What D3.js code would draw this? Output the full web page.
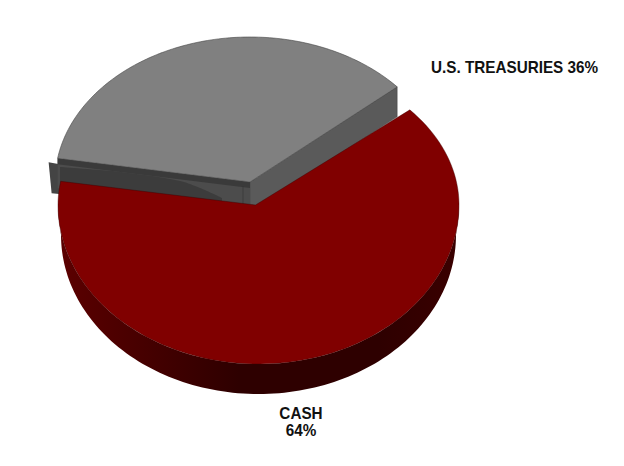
<!DOCTYPE html>
<html>
<head>
<meta charset="utf-8">
<script src="https://cdn.jsdelivr.net/npm/d3@7"></script>
<style>
html,body{margin:0;padding:0;background:#fff;}
text{font-family:"Liberation Sans",Arial,sans-serif;font-weight:bold;font-size:16px;fill:#111;}
</style>
</head>
<body>
<script>
// data
var categories = ["CASH", "U.S. TREASURIES"];
var shares = [64, 36];
var colours = ["#800000", "#808080"];

var width = 624, height = 466;
var depth = 30;
var deg = Math.PI / 180;

var svg = d3.select("body").append("svg")
    .attr("width", width)
    .attr("height", height)
    .style("display", "block");

// tilted pie: unit circle to screen, far half is a bit flatter than the near half
var x = d3.scaleLinear().domain([-1, 1]).range([58, 459]);
var y = d3.scaleLinear().domain([-1, 0, 1]).range([364, 205, 60]);
// the pulled out slice sits further back so it comes out a little smaller
var xBack = d3.scaleLinear().domain([-1, 1]).range([55, 445]);
var yBack = d3.scaleLinear().domain([-1, 0, 1]).range([341, 182, 37]);

var pie = d3.pie()
    .sort(null)
    .startAngle(49 * deg)
    .endAngle(409 * deg)
    .value(function(d) { return d; });

var slices = pie(shares);
var cash = slices[0], treasury = slices[1];
var line = d3.line();

function rimPts(a0, a1, fx, fy) {
  return d3.range(0, 121).map(function(i) {
    var a = a0 + (a1 - a0) * i / 120;
    return [fx(Math.sin(a)), fy(Math.cos(a))];
  });
}

var defs = svg.append("defs");
var grad = defs.append("linearGradient").attr("id", "rim");
[[0, "#5c0000"], [0.45, "#2e0000"], [0.8, "#2e0000"], [1, "#3a0000"]].forEach(function(s) {
  grad.append("stop").attr("offset", s[0]).attr("stop-color", s[1]);
});

// treasuries, pulled out of the pie
var a = [xBack(0), yBack(0)];
var left = rimPts(treasury.startAngle, treasury.startAngle, xBack, yBack)[0];
var right = rimPts(treasury.endAngle, treasury.endAngle, xBack, yBack)[0];

// wall facing right
svg.append("path")
    .attr("d", line([a, right, [right[0], right[1] + depth], [a[0], a[1] + depth]]) + "Z")
    .attr("fill", "#5a5a5a")
    .attr("stroke", "#444")
    .attr("stroke-width", 0.5);

// small tab sticking out at the left end
svg.append("path")
    .attr("d", line([[left[0] - 9, left[1] + 4], [left[0] + 2, left[1] + 6], [left[0] + 4, left[1] + 36], [left[0] - 6, left[1] + 35]]) + "Z")
    .attr("fill", "#444");

// wall facing the front
svg.append("path")
    .attr("d", line([left, a, [a[0], a[1] + depth], [left[0], left[1] + depth]]) + "Z")
    .attr("fill", "#4c4c4c");
// darker crescent along the bottom of that wall, cash covers its lower side
var crescentTop = d3.line().curve(d3.curveCatmullRom)([
  [a[0] - 190, a[1] - 15], [a[0] - 130, a[1] - 10], [a[0] - 70, a[1] - 1],
  [a[0] - 50, a[1] + 6], [a[0] - 28, a[1] + 16]
]);
svg.append("path")
    .attr("d", crescentTop + "L" + (a[0] - 28) + "," + (a[1] + 24) + "L" + (a[0] - 190) + "," + (a[1] + 8) + "Z")
    .attr("fill", "#3c3c3c");
svg.append("path")
    .attr("d", line([left, a, [a[0], a[1] + 6], [left[0], left[1] + 6]]) + "Z")
    .attr("fill", "#3a3a3a");
svg.append("line")
    .attr("x1", a[0] - 7).attr("y1", a[1] + 4)
    .attr("x2", a[0] - 7).attr("y2", a[1] + 22)
    .attr("stroke", "#333").attr("stroke-width", 0.6);

// top of the treasuries slice
svg.append("path")
    .attr("d", line([a].concat(rimPts(treasury.startAngle, treasury.endAngle, xBack, yBack))) + "Z")
    .attr("fill", colours[1])
    .attr("stroke", "#444")
    .attr("stroke-width", 0.6);

// cash rim, then its top; the lower edge of the rim is slightly narrower
var rim = rimPts(90 * deg, 270 * deg, x, y);
var rimLow = rim.map(function(p) {
  return [x(0) + (p[0] - x(0)) * 0.985, p[1] + depth];
}).reverse();
svg.append("path")
    .attr("d", line(rim.concat(rimLow)) + "Z")
    .attr("fill", "url(#rim)");

svg.append("path")
    .attr("d", line([[x(0) - 3, y(0)]].concat(rimPts(cash.startAngle, cash.endAngle, x, y))) + "Z")
    .attr("fill", colours[0])
    .attr("stroke", "#3a0000")
    .attr("stroke-width", 0.4);

// labels, squeezed a little to get the narrow look of the original
svg.append("text")
    .attr("transform", "translate(431,73) scale(0.955,1)")
    .text(categories[1] + " " + shares[1] + "%");

var cashLabel = svg.append("text")
    .attr("text-anchor", "middle")
    .attr("transform", "translate(301,0) scale(0.955,1)");
cashLabel.append("tspan").attr("x", 0).attr("y", 419).text(categories[0]);
cashLabel.append("tspan").attr("x", 0).attr("y", 436).text(shares[0] + "%");
</script>
</body>
</html>
